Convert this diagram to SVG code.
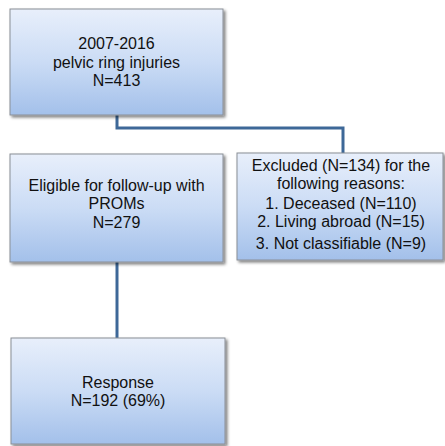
<svg xmlns="http://www.w3.org/2000/svg" width="445" height="446" viewBox="0 0 445 446">
<defs>
<linearGradient id="g" x1="0" y1="0" x2="0" y2="1">
<stop offset="0" stop-color="#e8effb"/>
<stop offset="0.5" stop-color="#cbdcf5"/>
<stop offset="1" stop-color="#a3c0ea"/>
</linearGradient>
<filter id="sh" x="-10%" y="-10%" width="130%" height="130%">
<feGaussianBlur in="SourceAlpha" stdDeviation="1.5"/>
<feOffset dx="2" dy="2" result="b"/>
<feComponentTransfer><feFuncA type="linear" slope="0.5"/></feComponentTransfer>
<feMerge><feMergeNode/><feMergeNode in="SourceGraphic"/></feMerge>
</filter>
</defs>
<style>
.box{fill:url(#g);stroke:#8a8f96;stroke-width:1;filter:url(#sh)}
text{font-family:"Liberation Sans",Arial,sans-serif;font-size:16px;fill:#111;text-anchor:middle}
.c{fill:none;stroke:#3e6898;stroke-width:3}
</style>
<rect width="445" height="446" fill="#fff"/>
<g id="connectors">
<path class="c" d="M117,115 V128 H343 V153"/>
<path class="c" d="M117,262 V338"/>
</g>
<g id="n1">
<rect class="box" x="10" y="9" width="213" height="106"/>
<text x="116.5" y="49">2007-2016</text>
<text x="116.5" y="68">pelvic ring injuries</text>
<text x="116.5" y="86">N=413</text>
</g>
<g id="n2">
<rect class="box" x="10" y="154" width="213" height="108"/>
<text x="116.5" y="191">Eligible  for follow-up with</text>
<text x="116.5" y="209">PROMs</text>
<text x="116.5" y="228">N=279</text>
</g>
<g id="n3">
<rect class="box" x="237" y="153" width="206" height="107"/>
<text x="341" y="171">Excluded (N=134) for the</text>
<text x="341" y="189">following reasons:</text>
<text x="341" y="209">1. Deceased (N=110)</text>
<text x="341" y="227">2. Living abroad (N=15)</text>
<text x="341" y="249">3. Not classifiable (N=9)</text>
</g>
<g id="n4">
<rect class="box" x="11" y="338" width="214" height="106"/>
<text x="118" y="388">Response</text>
<text x="118" y="406">N=192 (69%)</text>
</g>
</svg>
